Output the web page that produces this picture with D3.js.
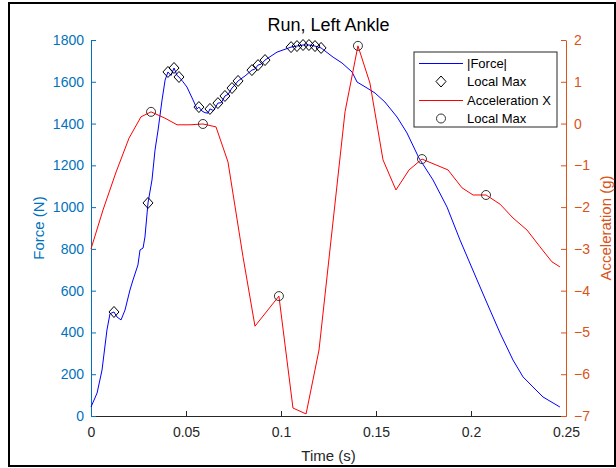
<!DOCTYPE html>
<html>
<head>
<meta charset="utf-8">
<script src="https://cdn.jsdelivr.net/npm/d3@7"></script>
<style>
  body { margin: 0; background: #fff; }
  svg { display: block; font-family: "Liberation Sans", Arial, Helvetica, sans-serif; }
</style>
</head>
<body>
<div class="draw"></div>
<script>
var title = 'Run, Left Ankle';

var timeTicks = [0, 0.05, 0.1, 0.15, 0.2, 0.25];
var forceTicks = [0, 200, 400, 600, 800, 1000, 1200, 1400, 1600, 1800];
var accelTicks = [-7, -6, -5, -4, -3, -2, -1, 0, 1, 2];

// |Force| trace
var forceT = [0, 0.0032, 0.0058, 0.0084, 0.0100, 0.0121, 0.0137, 0.0158, 0.0179, 0.0205,
  0.0221, 0.0247, 0.0258, 0.0274, 0.0284, 0.0300, 0.0321, 0.0337, 0.0353, 0.0374,
  0.0390, 0.0405, 0.0421, 0.0437, 0.0453, 0.0463, 0.0484, 0.0505, 0.0537, 0.0558,
  0.0568, 0.0584, 0.0600, 0.0616, 0.0626, 0.0645, 0.0668, 0.0686, 0.0705, 0.0722,
  0.0742, 0.0757, 0.0774, 0.0811, 0.0847, 0.0862, 0.0879, 0.0897, 0.0916, 0.0979,
  0.1053, 0.1084, 0.1116, 0.1147, 0.1179, 0.1211, 0.1274, 0.1321, 0.1374, 0.1400,
  0.1453, 0.1495, 0.1547, 0.1611, 0.1663, 0.1726, 0.1800, 0.1874, 0.1942, 0.2032,
  0.2084, 0.2153, 0.2221, 0.2274, 0.2326, 0.2379, 0.2468];
var forceN = [43, 110, 220, 412, 490, 498, 474, 460, 507, 603,
  651, 723, 795, 804, 857, 1020, 1130, 1273, 1369, 1513,
  1608, 1647, 1630, 1666, 1630, 1623, 1600, 1575, 1513, 1470,
  1479, 1460, 1452, 1450, 1470, 1462, 1498, 1500, 1532, 1540,
  1570, 1585, 1604, 1628, 1656, 1660, 1680, 1685, 1704, 1742,
  1766, 1771, 1776, 1776, 1771, 1762, 1718, 1690, 1647, 1599,
  1570, 1546, 1503, 1431, 1355, 1235, 1130, 1000, 843, 651,
  541, 397, 268, 187, 139, 91, 43];

var forceMaxT = [0.0121, 0.0300, 0.0405, 0.0437, 0.0463, 0.0568, 0.0626, 0.0668, 0.0705, 0.0742,
  0.0774, 0.0847, 0.0879, 0.0916, 0.1053, 0.1084, 0.1116, 0.1147, 0.1179, 0.1211];
var forceMaxN = [498, 1020, 1647, 1666, 1623, 1479, 1470, 1498, 1532, 1570,
  1604, 1656, 1680, 1704, 1766, 1771, 1776, 1776, 1771, 1762];

// Acceleration X trace
var accelT = [0, 0.0063, 0.0132, 0.0200, 0.0263, 0.0316, 0.0389, 0.0453, 0.0521, 0.0589,
  0.0658, 0.0721, 0.0800, 0.0863, 0.0989, 0.1063, 0.1132, 0.1200, 0.1337, 0.1405,
  0.1468, 0.1537, 0.1605, 0.1674, 0.1742, 0.1879, 0.1953, 0.2011, 0.2079, 0.2153,
  0.2221, 0.2295, 0.2363, 0.2426, 0.2468];
var accelG = [-3.00, -2.07, -1.16, -0.35, 0.16, 0.28, 0.13, -0.03, -0.03, -0.01,
  -0.08, -0.92, -3.19, -4.85, -4.13, -6.81, -6.95, -5.42, 0.28, 1.86,
  0.97, -0.87, -1.59, -1.11, -0.85, -1.11, -1.54, -1.71, -1.71, -1.93,
  -2.26, -2.55, -2.95, -3.31, -3.43];

var accelMaxT = [0.0316, 0.0589, 0.0989, 0.1405, 0.1742, 0.2079];
var accelMaxG = [0.28, -0.01, -4.13, 1.86, -0.85, -1.71];

var legendItems = [
  { label: '|Force|', kind: 'line', color: '#0000ff' },
  { label: 'Local Max', kind: 'diamond' },
  { label: 'Acceleration X', kind: 'line', color: '#ff0000' },
  { label: 'Local Max', kind: 'circle' }
];

var size = { w: 616, h: 468 };
var box = { left: 91, right: 566, top: 40, bottom: 416 };
var colors = { left: '#0072bd', right: '#d95319', axis: '#262626' };

var svg = d3.select('.draw').append('svg')
  .attr('width', size.w)
  .attr('height', size.h);

svg.append('rect')
  .attr('x', 9).attr('y', 3)
  .attr('width', 606).attr('height', 463)
  .attr('fill', '#fff')
  .attr('stroke', '#000')
  .attr('stroke-width', 2);

var x = d3.scaleLinear().domain([0, 0.25]).range([box.left, box.right]);
var yF = d3.scaleLinear().domain([0, 1800]).range([box.bottom, box.top]);
var yA = d3.scaleLinear().domain([-7, 2]).range([box.bottom, box.top]);

function styleAxis(g, color) {
  g.select('.domain').attr('stroke', color).attr('stroke-width', 1);
  g.selectAll('.tick line').attr('stroke', color);
  g.selectAll('.tick text').attr('fill', color).style('font-size', '14px');
}

var xAxis = svg.append('g')
  .attr('transform', 'translate(0,' + box.bottom + ')')
  .call(d3.axisBottom(x).tickValues(timeTicks).tickSizeInner(-5).tickSizeOuter(0).tickPadding(11)
    .tickFormat(function(d) { return d === 0 ? '0' : String(+d.toFixed(2)); }));
styleAxis(xAxis, colors.axis);

var leftAxis = svg.append('g')
  .attr('transform', 'translate(' + box.left + ',0)')
  .call(d3.axisLeft(yF).tickValues(forceTicks).tickSizeInner(-5).tickSizeOuter(0).tickPadding(7)
    .tickFormat(d3.format('d')));
styleAxis(leftAxis, colors.left);

var rightAxis = svg.append('g')
  .attr('transform', 'translate(' + box.right + ',0)')
  .call(d3.axisRight(yA).tickValues(accelTicks).tickSizeInner(-5).tickSizeOuter(0).tickPadding(8)
    .tickFormat(d3.format('d')));
styleAxis(rightAxis, colors.right);

// traces
var forceRows = forceT.map(function(t, i) { return [t, forceN[i]]; });
var accelRows = accelT.map(function(t, i) { return [t, accelG[i]]; });

svg.append('path')
  .datum(forceRows)
  .attr('fill', 'none')
  .attr('stroke', '#0000ff')
  .attr('stroke-width', 1)
  .attr('d', d3.line().x(function(d) { return x(d[0]); }).y(function(d) { return yF(d[1]); }));

svg.append('path')
  .datum(accelRows)
  .attr('fill', 'none')
  .attr('stroke', '#ff0000')
  .attr('stroke-width', 1)
  .attr('d', d3.line().x(function(d) { return x(d[0]); }).y(function(d) { return yA(d[1]); }));

var diamond = 'M0,-5.5L5,0L0,5.5L-5,0Z';

svg.append('g').selectAll('path')
  .data(forceMaxT.map(function(t, i) { return [t, forceMaxN[i]]; }))
  .enter().append('path')
  .attr('d', diamond)
  .attr('transform', function(d) { return 'translate(' + x(d[0]) + ',' + yF(d[1]) + ')'; })
  .attr('fill', 'none')
  .attr('stroke', '#000')
  .attr('stroke-width', 1);

svg.append('g').selectAll('circle')
  .data(accelMaxT.map(function(t, i) { return [t, accelMaxG[i]]; }))
  .enter().append('circle')
  .attr('cx', function(d) { return x(d[0]); })
  .attr('cy', function(d) { return yA(d[1]); })
  .attr('r', 4.5)
  .attr('fill', 'none')
  .attr('stroke', '#333')
  .attr('stroke-width', 1);

// labels
svg.append('text')
  .attr('x', (box.left + box.right) / 2)
  .attr('y', 31)
  .attr('text-anchor', 'middle')
  .style('font-size', '18px')
  .attr('fill', '#000')
  .text(title);

svg.append('text')
  .attr('x', (box.left + box.right) / 2)
  .attr('y', 461)
  .attr('text-anchor', 'middle')
  .style('font-size', '15px')
  .attr('fill', colors.axis)
  .text('Time (s)');

svg.append('text')
  .attr('transform', 'translate(44,' + (box.top + box.bottom) / 2 + ') rotate(-90)')
  .attr('text-anchor', 'middle')
  .style('font-size', '15px')
  .attr('fill', colors.left)
  .text('Force (N)');

svg.append('text')
  .attr('transform', 'translate(611,' + (box.top + box.bottom) / 2 + ') rotate(-90)')
  .attr('text-anchor', 'middle')
  .style('font-size', '15px')
  .attr('fill', colors.right)
  .text('Acceleration (g)');

// legend
var legend = svg.append('g').attr('transform', 'translate(414,52)');
legend.append('rect')
  .attr('width', 143).attr('height', 75)
  .attr('fill', '#fff')
  .attr('stroke', '#262626')
  .attr('stroke-width', 1);

legendItems.forEach(function(item, i) {
  var cy = Math.round(11 + i * 18.3) + 0.5;
  var row = legend.append('g').attr('transform', 'translate(0,' + cy + ')');
  if (item.kind === 'line') {
    row.append('line')
      .attr('x1', 5).attr('x2', 49)
      .attr('stroke', item.color).attr('stroke-width', 1);
  } else if (item.kind === 'diamond') {
    row.append('path').attr('d', diamond)
      .attr('transform', 'translate(27,0)')
      .attr('fill', 'none').attr('stroke', '#000');
  } else {
    row.append('circle').attr('cx', 27).attr('r', 4.5)
      .attr('fill', 'none').attr('stroke', '#333');
  }
  row.append('text')
    .attr('x', 53)
    .attr('dy', '0.35em')
    .style('font-size', '13px')
    .attr('fill', '#000')
    .text(item.label);
});
</script>
</body>
</html>
